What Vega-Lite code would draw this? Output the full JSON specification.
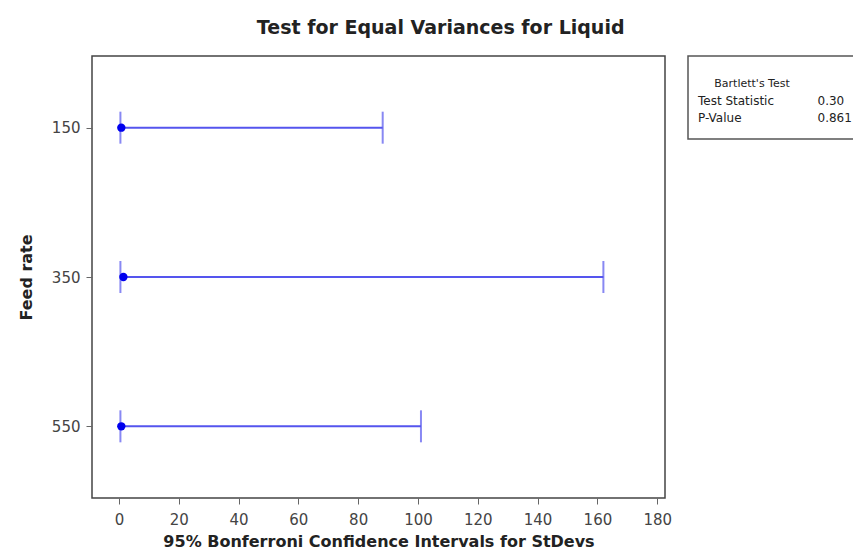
{
  "$schema": "https://vega.github.io/schema/vega-lite/v6.json",
  "background": "white",
  "padding": {"left": 17, "top": 19, "right": 0, "bottom": 0},
  "title": {"text": "Test for Equal Variances for Liquid", "anchor": "middle", "font": "DejaVu Sans", "fontSize": 19, "fontWeight": "bold", "color": "#222", "offset": 17},
  "config": {"font": "DejaVu Sans", "view": {"stroke": "#444", "strokeWidth": 1.5}},
  "spacing": 14,
  "hconcat": [
    {
      "width": 573,
      "height": 442,
      "data": {"values": [
        {"feed": "150", "lower": 0.5, "upper": 88.2, "sd": 0.8},
        {"feed": "350", "lower": 0.5, "upper": 162, "sd": 1.5},
        {"feed": "550", "lower": 0.5, "upper": 101, "sd": 0.8}
      ]},
      "encoding": {
        "y": {"field": "feed", "type": "ordinal", "sort": ["150", "350", "550"],
          "scale": {"type": "point", "padding": 0.48},
          "axis": {"title": "Feed rate", "titleFontSize": 16, "titleFontWeight": "bold", "titleColor": "#222", "titlePadding": 17,
            "labelFontSize": 15, "labelColor": "#444", "labelPadding": 6, "tickSize": 6, "tickColor": "#666", "domain": false, "grid": false}}
      },
      "layer": [
        {
          "mark": {"type": "rule", "color": "#5555ee", "strokeWidth": 2},
          "encoding": {
            "x": {"field": "lower", "type": "quantitative",
              "scale": {"domain": [-9, 182.6], "nice": false, "zero": false},
              "axis": {"title": "95% Bonferroni Confidence Intervals for StDevs", "values": [0, 20, 40, 60, 80, 100, 120, 140, 160, 180],
                "titleFontSize": 16, "titleFontWeight": "bold", "titleColor": "#222", "titlePadding": 6,
                "labelFontSize": 15, "labelColor": "#444", "labelPadding": 8, "tickSize": 6, "tickColor": "#666", "domain": false, "grid": false}},
            "x2": {"field": "upper"}
          }
        },
        {
          "mark": {"type": "tick", "color": "#5555ee", "thickness": 2, "size": 32, "orient": "vertical"},
          "encoding": {"x": {"field": "lower", "type": "quantitative"}}
        },
        {
          "mark": {"type": "tick", "color": "#5555ee", "thickness": 2, "size": 32, "orient": "vertical"},
          "encoding": {"x": {"field": "upper", "type": "quantitative"}}
        },
        {
          "mark": {"type": "point", "filled": true, "color": "#0000ee", "size": 70, "opacity": 1},
          "encoding": {"x": {"field": "sd", "type": "quantitative"}}
        }
      ]
    },
    {
      "width": 175,
      "height": 83,
      "view": {"stroke": "#555", "strokeWidth": 1.5},
      "layer": [
        {
          "data": {"values": [{"row": "Bartlett's Test", "text": "Bartlett's Test", "pos": 0.366}]},
          "mark": {"type": "text", "align": "center", "baseline": "middle", "fontSize": 11, "color": "#222"},
          "encoding": {
            "x": {"field": "pos", "type": "quantitative", "scale": {"domain": [0, 1]}, "axis": null},
            "y": {"field": "row", "type": "nominal", "sort": ["Bartlett's Test", "Test Statistic", "P-Value"], "scale": {"type": "point", "domain": ["Bartlett's Test", "Test Statistic", "P-Value"], "range": [20, 70]}, "axis": null},
            "text": {"field": "text"}
          }
        },
        {
          "data": {"values": [
            {"row": "Test Statistic", "text": "Test Statistic", "pos": 0.057},
            {"row": "P-Value", "text": "P-Value", "pos": 0.057},
            {"row": "Test Statistic", "text": "0.30", "pos": 0.74},
            {"row": "P-Value", "text": "0.861", "pos": 0.74}
          ]},
          "mark": {"type": "text", "align": "left", "baseline": "middle", "fontSize": 12, "color": "#222"},
          "encoding": {
            "x": {"field": "pos", "type": "quantitative", "scale": {"domain": [0, 1]}, "axis": null},
            "y": {"field": "row", "type": "nominal", "sort": ["Bartlett's Test", "Test Statistic", "P-Value"], "scale": {"type": "point", "domain": ["Bartlett's Test", "Test Statistic", "P-Value"], "range": [20, 70]}, "axis": null},
            "text": {"field": "text"}
          }
        }
      ]
    }
  ]
}
